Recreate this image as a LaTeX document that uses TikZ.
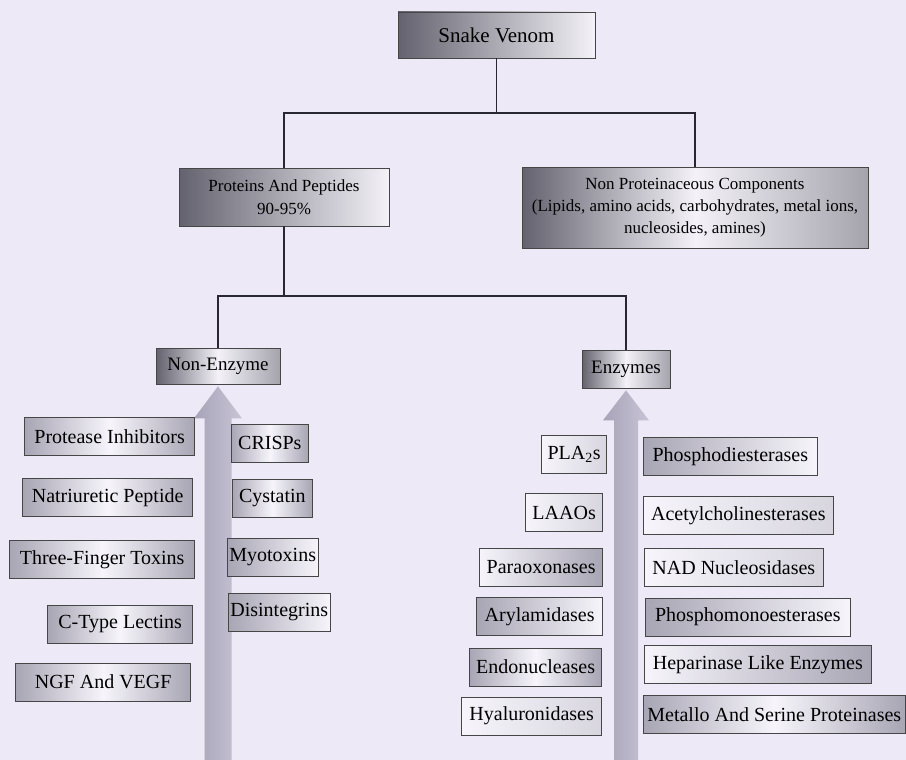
\documentclass[tikz,border=0pt]{standalone}
\usepackage{fontspec}
\setmainfont{Liberation Serif}
\usetikzlibrary{calc}

\definecolor{paper}{RGB}{237,233,246}
\definecolor{headdark}{RGB}{100,98,110}
\definecolor{headlight}{RGB}{244,242,248}
\definecolor{itemdark}{RGB}{168,165,180}
\definecolor{itemlight}{RGB}{247,245,251}
\definecolor{shaft}{RGB}{182,177,200}
\definecolor{wire}{RGB}{40,40,50}

\tikzset{
	box/.style={draw=gray!55!black, line width=0.7pt, inner sep=4pt, align=center, text=black},
	headL/.style={box, left color=headdark, right color=headlight},
	headC/.style={box, left color=headdark, right color=headdark!55!headlight, middle color=headlight},
	item/.style={box, minimum height=38pt, font=\fontsize{20}{24}\selectfont},
	itemL/.style={item, left color=itemdark, right color=itemlight},
	itemR/.style={item, left color=itemlight, right color=itemdark},
	itemC/.style={item, left color=itemdark, right color=itemdark, middle color=itemlight},
	itemP/.style={item, left color=itemlight, right color=itemdark!40!itemlight},
	link/.style={draw=wire, line width=1.4pt},
	bigarrow/.style={left color=shaft!92!black, right color=shaft!75!white}
}

\begin{document}
\begin{tikzpicture}[x=1pt, y=-1pt]
	\fill [paper] (0,0) rectangle (906,760);
	\useasboundingbox (0,0) rectangle (906,760);

	\node [headL, minimum width=197pt, minimum height=46pt, font=\fontsize{21}{25}\selectfont] (venom) at (496.5,35) {Snake Venom};
	\node [headL, minimum width=210pt, minimum height=58pt, font=\fontsize{17}{23}\selectfont] (prot) at (284,197) {Proteins And Peptides\\90-95\%};
	\node [headC, minimum width=346pt, minimum height=81pt, font=\fontsize{17}{22}\selectfont] (nonprot) at (695,207.5) {Non Proteinaceous Components\\(Lipids, amino acids, carbohydrates, metal ions,\\nucleosides, amines)};
	\node [headC, minimum width=124pt, minimum height=36pt, font=\fontsize{19}{23}\selectfont] (nonenz) at (218,366) {Non-Enzyme};
	\node [headC, minimum width=88pt, minimum height=38pt, font=\fontsize{19}{23}\selectfont] (enz) at (626,369) {Enzymes};

	\coordinate (topbus) at (496.5,113);
	\coordinate (midbus) at (284,296);
	\draw [link] (venom.south) -- (topbus);
	\draw [link] (prot.north) |- (topbus) -| (nonprot.north);
	\draw [link] (prot.south) -- (midbus);
	\draw [link] (nonenz.north) |- (midbus) -| (enz.north);

	% the two big upward arrows
	\shade [bigarrow] ($(nonenz.south)+(0,2)$) -- ++(24,32) -- ++(-10.5,0) -- ++(0,342) -- ++(-27,0) -- ++(0,-342) -- ++(-10.5,0) -- cycle;
	\shade [bigarrow] ($(enz.south)+(0,2)$) -- ++(23,30) -- ++(-11,0) -- ++(0,340) -- ++(-24,0) -- ++(0,-340) -- ++(-11,0) -- cycle;

	% non-enzyme components
	\node [itemC, anchor=east, minimum width=170pt] (protinh) at (195,436.5) {Protease Inhibitors};
	\node [itemC, anchor=east, minimum width=170pt] (natri) at (193,497.5) {Natriuretic Peptide};
	\node [itemC, anchor=east, minimum width=185pt] (threef) at (195,559.5) {Three-Finger Toxins};
	\node [itemC, anchor=east, minimum width=145pt] (ctype) at (193,624) {C-Type Lectins};
	\node [itemC, anchor=east, minimum width=175pt] (ngf) at (191,682) {NGF And VEGF};
	\node [itemC, anchor=west, minimum width=77pt] (crisps) at (231,443) {CRISPs};
	\node [itemC, anchor=west, minimum width=80pt] (cyst) at (232,498.5) {Cystatin};
	\node [itemL, anchor=west, minimum width=83pt, inner xsep=2pt] (myo) at (227,557.5) {Myotoxins};
	\node [itemL, anchor=west, minimum width=84pt, inner xsep=2pt] (disint) at (228,612.5) {Disintegrins};

	% enzymes
	\node [itemP, anchor=east, minimum width=65pt] (pla) at (607,454.5) {PLA\textsubscript{2}s};
	\node [itemP, anchor=east, minimum width=77pt] (laao) at (603,512.5) {LAAOs};
	\node [itemR, anchor=east, minimum width=123pt] (parao) at (603,567) {Paraoxonases};
	\node [itemL, anchor=east, minimum width=126pt] (aryl) at (603,616.5) {Arylamidases};
	\node [itemC, anchor=east, minimum width=132pt] (endo) at (602,667) {Endonucleases};
	\node [itemP, anchor=east, minimum width=140pt] (hyal) at (602,716) {Hyaluronidases};
	\node [itemL, anchor=west, minimum width=174pt] (phosd) at (643,456.5) {Phosphodiesterases};
	\node [itemP, anchor=west, minimum width=190pt] (acetyl) at (643,515.5) {Acetylcholinesterases};
	\node [itemP, anchor=west, minimum width=179pt] (nad) at (644,567.5) {NAD Nucleosidases};
	\node [itemL, anchor=west, minimum width=205pt] (phosm) at (645,617) {Phosphomonoesterases};
	\node [itemR, anchor=west, minimum width=227pt] (hepar) at (644,664.5) {Heparinase Like Enzymes};
	\node [itemC, anchor=west, minimum width=260pt] (metallo) at (643,714.5) {Metallo And Serine Proteinases};
\end{tikzpicture}
\end{document}
